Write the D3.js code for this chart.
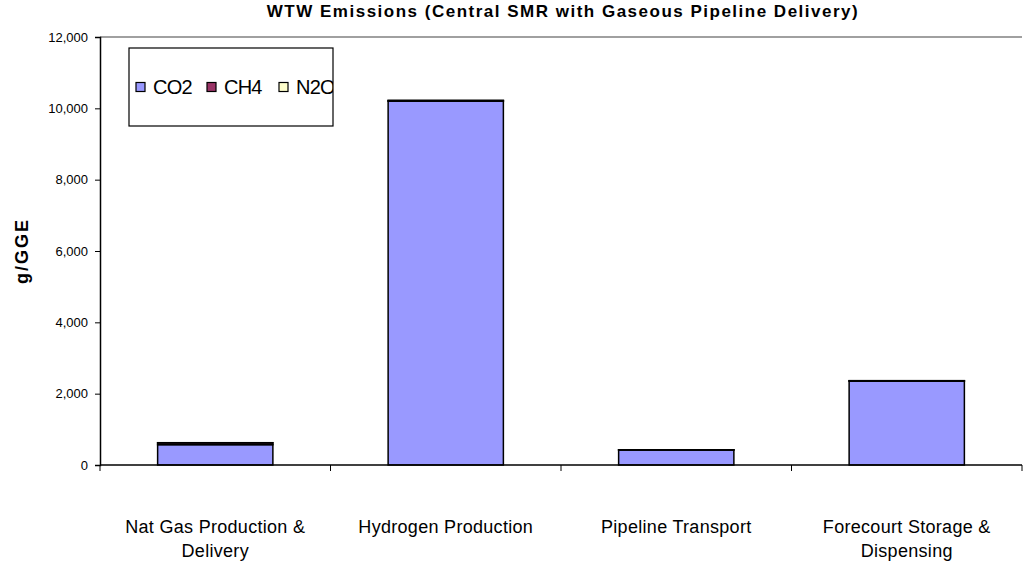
<!DOCTYPE html>
<html>
<head>
<meta charset="utf-8">
<script src="https://cdn.jsdelivr.net/npm/d3@7"></script>
<style>
  html, body { margin: 0; padding: 0; background: #fff; }
  svg { display: block; font-family: Arial, "Liberation Sans", sans-serif; }
</style>
</head>
<body>
<svg id="chart" width="1026" height="570"></svg>
<script>
// Well-to-wheels emissions per stage, g/GGE
const categories = [
  ["Nat Gas Production &", "Delivery"],
  ["Hydrogen Production"],
  ["Pipeline Transport"],
  ["Forecourt Storage &", "Dispensing"]
];
const seriesNames = ["CO2", "CH4", "N2O"];
const co2 = [570, 10200, 420, 2350];
const ch4 = [50, 15, 5, 10];
const n2o = [5, 10, 2, 5];
const yTicks = [0, 2000, 4000, 6000, 8000, 10000, 12000];
const colors = ["#9999FF", "#993366", "#FFFFCC"];

const svg = d3.select("#chart");
const margin = { left: 100, right: 4, top: 37, bottom: 105 };
const W = 1026, H = 570;
const plotW = W - margin.left - margin.right;
const plotH = H - margin.top - margin.bottom;

const g = svg.append("g").attr("transform", `translate(${margin.left},${margin.top})`);

const x = d3.scaleBand().domain(d3.range(categories.length)).range([0, plotW]).paddingInner(0.5).paddingOuter(0.25);
const xOuter = d3.scaleBand().domain(d3.range(categories.length)).range([0, plotW]);
const y = d3.scaleLinear().domain([0, 12000]).range([plotH, 0]);

// top border of plot area
g.append("line").attr("x1", 0).attr("x2", plotW).attr("y1", 0).attr("y2", 0)
  .attr("stroke", "#808080").attr("stroke-width", 1.5);

// stacked bars
const rows = categories.map((c, i) => ({ CO2: co2[i], CH4: ch4[i], N2O: n2o[i], i }));
const stack = d3.stack().keys(seriesNames)(rows);
stack.forEach((layer, k) => {
  g.append("g").selectAll("rect").data(layer).join("rect")
    .attr("x", d => x(d.data.i))
    .attr("width", x.bandwidth())
    .attr("y", d => y(d[1]))
    .attr("height", d => y(d[0]) - y(d[1]))
    .attr("fill", colors[k])
    .attr("stroke", "#000").attr("stroke-width", 1.5);
});

// y axis
const yAxis = g.append("g").call(d3.axisLeft(y).tickValues(yTicks).tickSize(5).tickFormat(d3.format(",")));
yAxis.select(".domain").attr("stroke", "#000").attr("stroke-width", 1.5);
yAxis.selectAll(".tick line").attr("stroke", "#000");
yAxis.selectAll("text").attr("font-size", 13).attr("fill", "#000").attr("x", -12);

// x axis with ticks on category boundaries
const xAx = g.append("g").attr("transform", `translate(0,${plotH})`);
xAx.append("line").attr("x1", 0).attr("x2", plotW).attr("stroke", "#000").attr("stroke-width", 1.5);
xAx.selectAll("line.tk").data(d3.range(categories.length + 1)).join("line").attr("class", "tk")
  .attr("x1", d => d * xOuter.step()).attr("x2", d => d * xOuter.step())
  .attr("y1", 0).attr("y2", 6).attr("stroke", "#000");
const lbl = xAx.selectAll("text.cat").data(categories).join("text").attr("class", "cat")
  .attr("text-anchor", "middle").attr("font-size", 18).attr("letter-spacing", 0.3).attr("fill", "#000")
  .attr("transform", (d, i) => `translate(${xOuter(i) + xOuter.bandwidth() / 2},0)`);
lbl.selectAll("tspan").data(d => d).join("tspan")
  .attr("x", 0).attr("y", (d, j) => 68 + j * 24).text(d => d);

// title
svg.append("text").attr("x", 563).attr("y", 17).attr("text-anchor", "middle")
  .attr("font-size", 17).attr("letter-spacing", 1.5).attr("font-weight", "bold")
  .text("WTW Emissions (Central SMR with Gaseous Pipeline Delivery)");

// y axis title
svg.append("text").attr("transform", `translate(28,${margin.top + plotH / 2}) rotate(-90)`)
  .attr("text-anchor", "middle").attr("font-size", 18).attr("letter-spacing", 2)
  .attr("font-weight", "bold").text("g/GGE");

// legend (clipped by its frame)
const leg = svg.append("g").attr("transform", "translate(129,48)");
const legW = 204, legH = 78;
svg.append("clipPath").attr("id", "legclip").append("rect").attr("width", legW).attr("height", legH);
leg.append("rect").attr("width", legW).attr("height", legH).attr("fill", "#fff").attr("stroke", "#000").attr("stroke-width", 1.2);
const items = leg.append("g").attr("clip-path", "url(#legclip)");
const itemX = [7, 78, 150];
seriesNames.forEach((name, k) => {
  items.append("rect").attr("x", itemX[k]).attr("y", legH / 2 - 4.5).attr("width", 9).attr("height", 9)
    .attr("fill", colors[k]).attr("stroke", "#000").attr("stroke-width", 1.2);
  items.append("text").attr("x", itemX[k] + 17).attr("y", legH / 2 + 7).attr("font-size", 20)
    .attr("letter-spacing", -0.8).text(name);
});
</script>
</body>
</html>
